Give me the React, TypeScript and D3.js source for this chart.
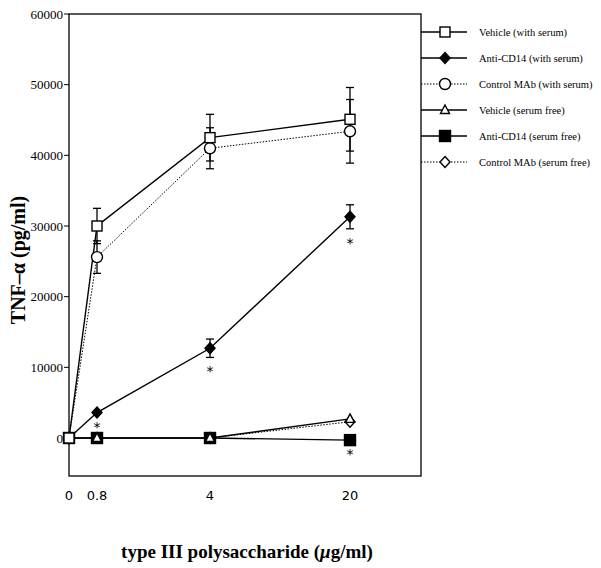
import React from "react";
import * as d3 from "d3";

const doses = [0, 0.8, 4, 20];
const doseLabels = ["0", "0.8", "4", "20"];
const yTicks = [0, 10000, 20000, 30000, 40000, 50000, 60000];

const seriesNames = [
  "Vehicle (with serum)",
  "Anti-CD14 (with serum)",
  "Control MAb (with serum)",
  "Vehicle (serum free)",
  "Anti-CD14 (serum free)",
  "Control MAb (serum free)",
];

const vehicleSerum = [0, 30000, 42500, 45100];
const vehicleSerumErr = [0, 2500, 3300, 4500];
const antiCD14Serum = [0, 3600, 12700, 31300];
const antiCD14SerumErr = [0, 0, 1300, 1700];
const controlSerum = [0, 25600, 41000, 43400];
const controlSerumErr = [0, 2300, 2900, 4500];
const vehicleFree = [0, 0, 0, 2700];
const antiCD14Free = [0, 0, 0, -300];
const controlFree = [0, 0, 0, 2300];

const significant = [
  { series: 1, dose: 1 },
  { series: 1, dose: 2 },
  { series: 1, dose: 3 },
  { series: 4, dose: 3 },
];

type Sym = "square" | "diamond" | "circle" | "triangle";
const styles: { sym: Sym; fill: string; dash: string | null }[] = [
  { sym: "square", fill: "#fff", dash: null },
  { sym: "diamond", fill: "#000", dash: null },
  { sym: "circle", fill: "#fff", dash: "1.5,1.5" },
  { sym: "triangle", fill: "#fff", dash: null },
  { sym: "square", fill: "#000", dash: null },
  { sym: "diamond", fill: "#fff", dash: "1.5,1.5" },
];

const values = [vehicleSerum, antiCD14Serum, controlSerum, vehicleFree, antiCD14Free, controlFree];
const errors = [vehicleSerumErr, antiCD14SerumErr, controlSerumErr, null, null, null];

const L = 69, R = 421, T = 14, B = 476;
const x = d3.scaleLinear().domain(doses).range([69, 97, 210, 350]);
const y = d3.scaleLinear().domain([0, 60000]).range([438, T]);

function Marker({ sym, fill, cx, cy }: { sym: Sym; fill: string; cx: number; cy: number }) {
  const common = { fill, stroke: "#000", strokeWidth: 1.4 };
  if (sym === "square") {
    const h = fill === "#000" ? 5.5 : 5;
    return <rect x={cx - h} y={cy - h} width={2 * h} height={2 * h} {...common} />;
  }
  if (sym === "circle") return <circle cx={cx} cy={cy} r={5.5} {...common} />;
  if (sym === "diamond")
    return <path d={`M${cx},${cy - 5.5}L${cx + 5},${cy}L${cx},${cy + 5.5}L${cx - 5},${cy}Z`} {...common} />;
  return <path d={`M${cx},${cy - 5}L${cx + 4.5},${cy + 3.5}L${cx - 4.5},${cy + 3.5}Z`} {...common} />;
}

export default function App() {
  const line = d3
    .line<number>()
    .x((_, i) => x(doses[i]))
    .y((v) => y(v));
  const drawOrder = [5, 4, 3, 2, 1, 0];
  const serif = "'Liberation Serif', 'Times New Roman', serif";
  return (
    <svg width={601} height={568} style={{ position: "absolute", left: 0, top: 0, background: "#fff" }}>
      <rect x={L} y={T} width={R - L} height={B - T} fill="none" stroke="#000" strokeWidth={1.3} />
      {yTicks.map((t) => (
        <g key={t}>
          <line x1={L - 5} x2={L} y1={y(t)} y2={y(t)} stroke="#000" strokeWidth={1} />
          <text x={L - 6} y={y(t)} dy="0.35em" textAnchor="end" fontFamily={serif} fontSize={13}>
            {t}
          </text>
        </g>
      ))}
      {doses.map((d, i) => (
        <text key={d} x={x(d)} y={500} textAnchor="middle" fontFamily="'DejaVu Sans', sans-serif" fontSize={13}>
          {doseLabels[i]}
        </text>
      ))}
      <text
        transform={`translate(25,260) rotate(-90)`}
        textAnchor="middle"
        fontFamily={serif}
        fontWeight="bold"
        fontSize={20}
      >
        TNF–α (pg/ml)
      </text>
      <text x={247} y={558} textAnchor="middle" fontFamily={serif} fontWeight="bold" fontSize={19}>
        type III polysaccharide (<tspan fontStyle="italic">μ</tspan>g/ml)
      </text>
      {drawOrder.map((s) => (
        <path
          key={"l" + s}
          d={line(values[s]) || ""}
          fill="none"
          stroke="#000"
          strokeWidth={s === 2 || s === 5 ? 1 : 1.4}
          strokeDasharray={styles[s].dash || undefined}
        />
      ))}
      {drawOrder.map((s) =>
        errors[s]
          ? values[s].map((v, i) =>
              errors[s]![i] > 0 ? (
                <g key={"e" + s + i}>
                  <line x1={x(doses[i])} x2={x(doses[i])} y1={y(v - errors[s]![i])} y2={y(v + errors[s]![i])} stroke="#000" strokeWidth={1.3} />
                  <line x1={x(doses[i]) - 4} x2={x(doses[i]) + 4} y1={y(v + errors[s]![i])} y2={y(v + errors[s]![i])} stroke="#000" strokeWidth={1.3} />
                  <line x1={x(doses[i]) - 4} x2={x(doses[i]) + 4} y1={y(v - errors[s]![i])} y2={y(v - errors[s]![i])} stroke="#000" strokeWidth={1.3} />
                </g>
              ) : null
            )
          : null
      )}
      {drawOrder.map((s) =>
        values[s].map((v, i) => (
          <Marker key={"m" + s + i} sym={styles[s].sym} fill={styles[s].fill} cx={x(doses[i])} cy={y(v)} />
        ))
      )}
      {significant.map((a, k) => {
        const v = values[a.series][a.dose];
        const e = errors[a.series] ? errors[a.series]![a.dose] : 0;
        return (
          <text key={"a" + k} x={x(doses[a.dose])} y={y(v - e) + 19} textAnchor="middle" fontFamily="'DejaVu Sans', sans-serif" fontSize={14}>
            *
          </text>
        );
      })}
      {seriesNames.map((n, i) => {
        const ly = 32 + i * 26;
        return (
          <g key={n}>
            <line x1={R} x2={467} y1={ly} y2={ly} stroke="#000" strokeWidth={i === 2 || i === 5 ? 1 : 1.3} strokeDasharray={styles[i].dash || undefined} />
            <Marker sym={styles[i].sym} fill={styles[i].fill} cx={445} cy={ly} />
            <text x={479} y={ly} dy="0.35em" fontFamily={serif} fontSize={10.5}>
              {n}
            </text>
          </g>
        );
      })}
    </svg>
  );
}
